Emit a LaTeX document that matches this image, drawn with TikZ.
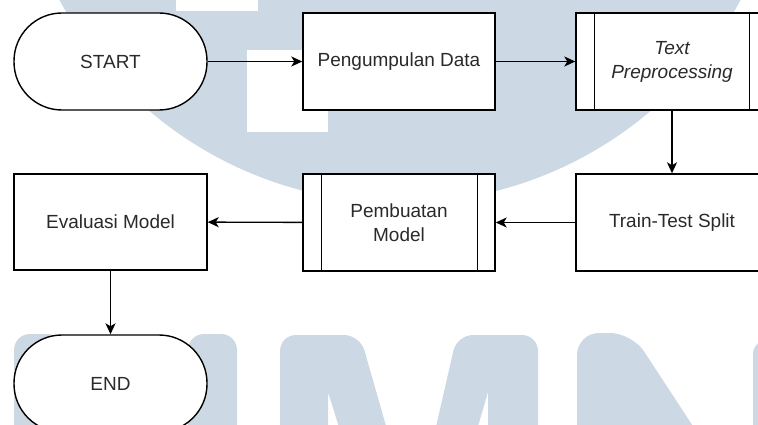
\documentclass[tikz,border=0pt]{standalone}
\usepackage{fontspec}
\setmainfont{Liberation Sans}
\usetikzlibrary{arrows.meta}
\definecolor{wm}{HTML}{CCD8E4}
\definecolor{txt}{HTML}{2A2A2A}
\tikzset{
  box/.style={draw=black, fill=white, line width=1.4pt, minimum width=192pt,
    minimum height=97pt, inner sep=0pt, font=\fontsize{19}{24}\selectfont,
    text=txt, align=center},
  term/.style={box, minimum width=193pt, rounded corners=48pt},
  flow/.style={line width=1.4pt, -{Stealth[length=11pt,width=10pt,inset=3pt]}},
  inner/.style={line width=1.4pt},
  wmfill/.style={fill=wm}
}
\begin{document}
\begin{tikzpicture}[x=1pt,y=-1pt]
\useasboundingbox (0,0) rectangle (758,425);
\clip (0,0) rectangle (758,425);
\fill[white] (0,0) rectangle (758,425);
% watermark
\fill[wmfill] (400,-184) circle[radius=387];
\fill[white] (176,-5) rectangle (258,11);
\fill[white] (247,50) rectangle (328,132);
% U
\fill[wmfill, rounded corners=16pt] (14,450) -- (14,334) -- (63,334) -- (63,450) -- cycle;
\fill[wmfill, rounded corners=16pt] (188,450) -- (188,334) -- (237,334) -- (237,450) -- cycle;
% M
\fill[wmfill] (280,440) [rounded corners=16pt] -- (280,335) -- (360,335) [sharp corners] -- (390,440) -- (343,440) -- (328,392) -- (328,440) -- cycle;
\fill[wmfill] (433,440) [rounded corners=16pt] -- (457,335) -- (538,335) [sharp corners] -- (538,440) -- (488,440) -- (488,392) -- (474,440) -- cycle;
% N
\fill[wmfill] (577,440) [rounded corners=22pt] -- (577,333) -- (632,333) [sharp corners] -- (702,440) -- cycle;
\fill[wmfill] (753,440) [rounded corners=14pt] -- (753,340) -- (790,340) [sharp corners] -- (790,440) -- cycle;
% nodes
\node[term] (start) at (110.5,61.5) {START};
\node[box] (collect) at (399,61.5) {Pengumpulan Data};
\node[box] (prep) at (672,61.5) {\itshape Text\\\itshape Preprocessing};
\node[box] (split) at (672,222.5) {Train-Test Split};
\node[box] (model) at (399,222.5) {Pembuatan\\Model};
\node[box, minimum width=193pt, minimum height=96pt] (eval) at (110.5,222) {Evaluasi Model};
\node[term] (stop) at (110.5,383.5) {END};
% inner lines of predefined processes
\draw[inner] ([xshift=19pt]prep.north west) -- ([xshift=19pt]prep.south west);
\draw[inner] ([xshift=-19pt]prep.north east) -- ([xshift=-19pt]prep.south east);
\draw[inner] ([xshift=19pt]model.north west) -- ([xshift=19pt]model.south west);
\draw[inner] ([xshift=-18pt]model.north east) -- ([xshift=-18pt]model.south east);
% connectors
\draw[flow] (start) -- (collect);
\draw[flow] (collect) -- (prep);
\draw[flow] (prep) -- (split);
\draw[flow] (split) -- (model);
\draw[flow] (model) -- (eval);
\draw[flow] (eval) -- (stop);
\end{tikzpicture}
\end{document}
